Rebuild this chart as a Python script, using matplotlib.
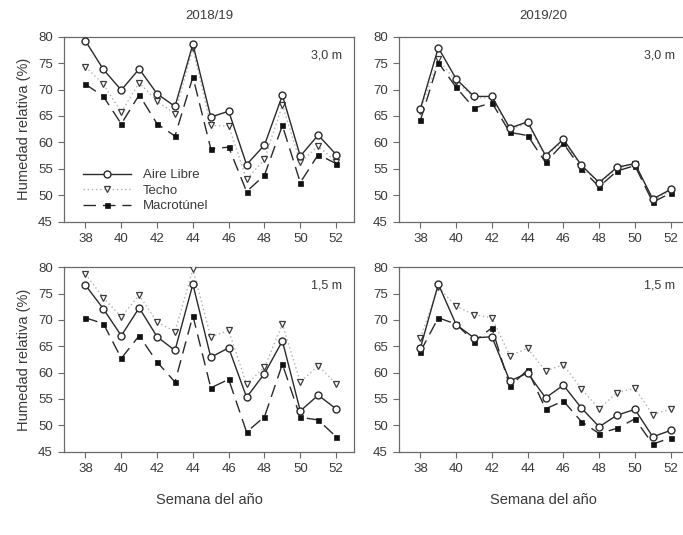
import matplotlib
matplotlib.use("Agg")
import matplotlib.pyplot as plt
from matplotlib.lines import Line2D

plt.rcParams['font.family'] = ['Liberation Sans', 'DejaVu Sans']

weeks = [38, 39, 40, 41, 42, 43, 44, 45, 46, 47, 48, 49, 50, 51, 52]
series_names = ["Aire Libre", "Techo", "Macrotúnel"]

# 2018/19, 3,0 m
tl_aire = [79.2, 73.8, 69.9, 73.9, 69.2, 66.8, 78.6, 64.8, 65.9, 55.8, 59.5, 68.9, 57.4, 61.4, 57.7]
tl_techo = [74.3, 71.0, 65.7, 71.3, 67.8, 65.4, 77.8, 63.2, 63.1, 53.0, 56.8, 67.1, 56.2, 59.3, 56.3]
tl_macro = [71.0, 68.7, 63.5, 69.0, 63.5, 61.2, 72.4, 58.8, 59.1, 50.7, 53.8, 63.2, 52.4, 57.7, 56.0]

# 2019/20, 3,0 m
tr_aire = [66.4, 77.9, 72.0, 68.7, 68.7, 62.7, 63.9, 57.5, 60.6, 55.7, 52.4, 55.3, 56.0, 49.3, 51.1]
tr_techo = [66.0, 75.7, 71.5, 68.5, 68.3, 62.5, 63.6, 57.3, 60.3, 55.4, 52.3, 55.1, 55.9, 49.1, 50.8]
tr_macro = [64.2, 75.1, 70.4, 66.5, 67.5, 61.9, 61.3, 56.2, 59.8, 55.0, 51.6, 54.6, 55.6, 48.7, 50.4]

# 2018/19, 1,5 m
bl_aire = [76.6, 72.1, 67.0, 72.3, 66.8, 64.2, 76.8, 62.9, 64.7, 55.3, 59.8, 66.0, 52.7, 55.7, 53.1]
bl_techo = [78.7, 74.2, 70.6, 74.7, 69.6, 67.8, 79.6, 66.8, 68.0, 57.8, 61.0, 69.2, 58.2, 61.3, 57.9]
bl_macro = [70.4, 69.3, 62.7, 67.0, 62.0, 58.2, 70.8, 57.1, 58.7, 48.7, 51.6, 61.6, 51.5, 51.0, 47.8]

# 2019/20, 1,5 m
br_aire = [64.7, 76.8, 69.1, 66.6, 66.8, 58.4, 59.9, 55.2, 57.6, 53.3, 49.7, 51.9, 53.0, 47.8, 49.0]
br_techo = [66.6, 76.2, 72.6, 71.0, 70.4, 63.2, 64.6, 60.3, 61.5, 56.9, 53.1, 56.2, 57.0, 52.0, 53.1]
br_macro = [64.0, 70.4, 69.2, 65.9, 68.5, 57.4, 60.5, 53.1, 54.6, 50.7, 48.4, 49.4, 51.2, 46.4, 47.6]

titles = ["2018/19", "2019/20"]
heights = ["3,0 m", "1,5 m"]
ylabel = "Humedad relativa (%)"
xlabel = "Semana del año"
yticks = [45, 50, 55, 60, 65, 70, 75, 80]
xticks = [38, 40, 42, 44, 46, 48, 50, 52]

W, H = 683, 535
fig = plt.figure(figsize=(W / 100, H / 100), dpi=100)

def frac_rect(x0, x1, y0, y1):
    return [x0 / W, 1 - y1 / H, (x1 - x0) / W, (y1 - y0) / H]

rects = {
    (0, 0): frac_rect(64, 354, 36.7, 221.7),
    (0, 1): frac_rect(399, 688.5, 36.7, 221.7),
    (1, 0): frac_rect(64, 354, 267.3, 451.5),
    (1, 1): frac_rect(399, 688.5, 267.3, 451.5),
}
data = {
    (0, 0): (tl_aire, tl_techo, tl_macro),
    (0, 1): (tr_aire, tr_techo, tr_macro),
    (1, 0): (bl_aire, bl_techo, bl_macro),
    (1, 1): (br_aire, br_techo, br_macro),
}

txt = '#3a3a3a'
spine_c = '#6a6a6a'

styles = [
    dict(color='#2a2a2a', lw=1.0, ls='-', marker='o', ms=5.0, mfc='white', mec='#2a2a2a', mew=1.0),
    dict(color='#b0b0b0', lw=1.0, ls=(0, (1, 2)), marker='v', ms=5.0, mfc='white', mec='#3a3a3a', mew=0.9),
    dict(color='#2a2a2a', lw=1.0, ls=(0, (9, 5)), marker='s', ms=3.6, mfc='#111111', mec='#111111', mew=0.5),
]

axes = {}
for (r, c), rect in rects.items():
    ax = fig.add_axes(rect)
    axes[(r, c)] = ax
    vals = data[(r, c)]
    order = [1, 2, 0]
    for i in order:
        ax.plot(weeks, vals[i], label=series_names[i], zorder=3 + (i == 0), **styles[i])
    ax.set_xlim(36.8, 53.0)
    ax.set_ylim(45, 80)
    ax.set_xticks(xticks)
    ax.set_yticks(yticks)
    ax.tick_params(direction='out', length=4, width=0.8, colors=spine_c,
                   labelcolor=txt, labelsize=9.5, pad=4)
    for s in ax.spines.values():
        s.set_color(spine_c)
        s.set_linewidth(0.9)
    ax.text(0.96 if c == 0 else 0.955, 0.90, heights[r], transform=ax.transAxes,
            ha='right', va='center', fontsize=9, color=txt)
    if r == 0:
        ax.set_title(titles[c], fontsize=9.5, color=txt, pad=13)
    if c == 0:
        ax.set_ylabel(ylabel, fontsize=10.5, color=txt, labelpad=5)
    if r == 1:
        ax.set_xlabel(xlabel, fontsize=10.5, color=txt, labelpad=13)

handles = [Line2D([], [], **styles[i]) for i in range(3)]
axes[(0, 0)].legend(handles, series_names, loc='lower left', bbox_to_anchor=(0.035, 0.0),
                    frameon=False, fontsize=9.5, labelcolor=txt, handlelength=3.6,
                    handletextpad=0.9, labelspacing=0.25, borderaxespad=0.3)

fig.savefig("out.png", dpi=100)
